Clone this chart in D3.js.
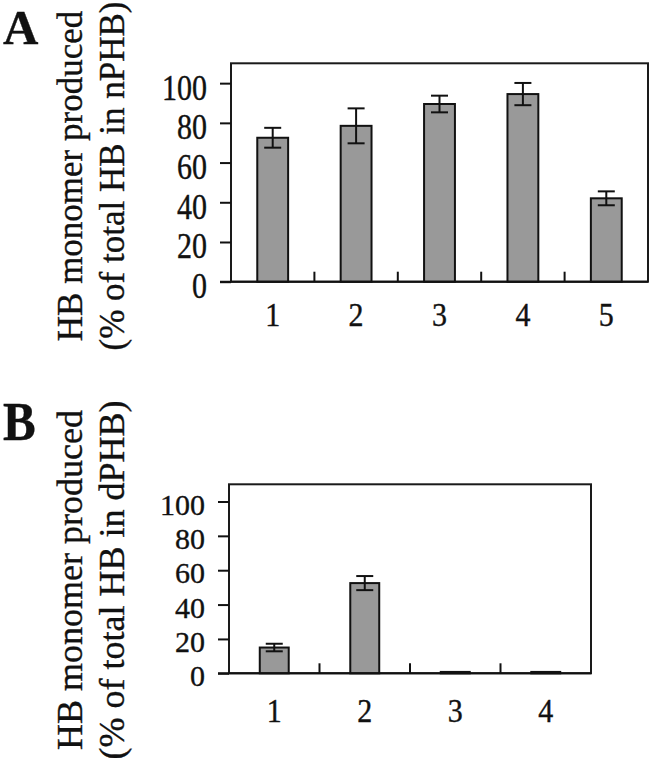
<!DOCTYPE html>
<html>
<head>
<meta charset="utf-8">
<script src="https://cdn.jsdelivr.net/npm/d3@7"></script>
<style>
  html, body { margin: 0; padding: 0; background: #fff; }
  svg { display: block; }
  text { font-family: "Liberation Serif", "Times New Roman", serif; fill: #111; stroke: #111; stroke-width: 0.35px; }
</style>
</head>
<body>
<svg id="chart" width="650" height="764"></svg>
<script>
// ---- Data ----
const categoriesA = ["1", "2", "3", "4", "5"];
const valuesA = [72.5, 78.5, 89.5, 94.5, 42];
const errorsA = [5.0, 8.8, 4.2, 5.6, 3.5];

const categoriesB = ["1", "2", "3", "4"];
const valuesB = [15.0, 52.5, 0.8, 0.8];
const errorsB = [2.2, 4.1, 0, 0];

const yTickValues = [0, 20, 40, 60, 80, 100];
const yLabelLine1 = "HB monomer produced";
const yLabelLineA2 = "(% of total HB in nPHB)";
const yLabelLineB2 = "(% of total HB in dPHB)";

const svg = d3.select("#chart");

function drawPanel(cfg) {
  const g = svg.append("g");
  const y = d3.scaleLinear().domain([0, 110]).range([cfg.bottom, cfg.top]);
  const x = d3.scaleBand().domain(cfg.categories).range([cfg.left, cfg.right]).padding(0);
  const bw = x.bandwidth() * cfg.barFrac;

  // box
  g.append("rect")
    .attr("x", cfg.left).attr("y", cfg.top)
    .attr("width", cfg.right - cfg.left).attr("height", cfg.bottom - cfg.top)
    .attr("fill", "none").attr("stroke", "#1a1a1a").attr("stroke-width", 2);

  // bars
  const data = cfg.categories.map((c, i) => ({ c, v: cfg.values[i], e: cfg.errors[i] }));
  g.selectAll("rect.bar").data(data).enter().append("rect")
    .attr("class", "bar")
    .attr("x", d => x(d.c) + x.bandwidth() / 2 - bw / 2)
    .attr("y", d => y(d.v))
    .attr("width", bw)
    .attr("height", d => y(0) - y(d.v))
    .attr("fill", "#999999").attr("stroke", "#111").attr("stroke-width", 2);

  // error bars
  const eb = g.selectAll("g.err").data(data.filter(d => d.e > 0)).enter().append("g").attr("class", "err");
  eb.append("line")
    .attr("x1", d => x(d.c) + x.bandwidth() / 2).attr("x2", d => x(d.c) + x.bandwidth() / 2)
    .attr("y1", d => y(d.v + d.e)).attr("y2", d => y(d.v - d.e))
    .attr("stroke", "#111").attr("stroke-width", 2);
  [1, -1].forEach(s => {
    eb.append("line")
      .attr("x1", d => x(d.c) + x.bandwidth() / 2 - 8.5).attr("x2", d => x(d.c) + x.bandwidth() / 2 + 8.5)
      .attr("y1", d => y(d.v + s * d.e)).attr("y2", d => y(d.v + s * d.e))
      .attr("stroke", "#111").attr("stroke-width", 2);
  });

  // y axis
  const yAxis = d3.axisLeft(y).tickValues(yTickValues).tickSize(11).tickSizeOuter(0).tickPadding(13);
  const ya = g.append("g").attr("transform", `translate(${cfg.left},0)`).call(yAxis);
  ya.select(".domain").remove();
  ya.selectAll(".tick line").attr("stroke", "#111").attr("stroke-width", 2);
  ya.selectAll(".tick text")
    .attr("font-size", 30)
    .attr("dy", cfg.tickDy + "em")
    .attr("transform", `scale(1,${cfg.yTextScale})`);

  // baseline
  g.append("line")
    .attr("x1", cfg.left - 11).attr("x2", cfg.right)
    .attr("y1", y(0)).attr("y2", y(0))
    .attr("stroke", "#111").attr("stroke-width", 2);

  // category separator ticks (upward)
  const xAxis = d3.axisTop(x).tickSize(10).tickSizeOuter(0).tickFormat("");
  const xa = g.append("g").attr("transform", `translate(${x.bandwidth() / 2},${y(0)})`).call(xAxis);
  xa.select(".domain").remove();
  xa.selectAll(".tick").filter((d, i) => i === cfg.categories.length - 1).remove();
  xa.selectAll(".tick line").attr("stroke", "#111").attr("stroke-width", 2);

  // x labels
  g.selectAll("text.xl").data(cfg.categories).enter().append("text")
    .attr("class", "xl")
    .attr("text-anchor", "middle")
    .attr("font-size", 30)
    .attr("transform", d => `translate(${x(d) + x.bandwidth() / 2},${y(0) + cfg.xLabelOffset}) scale(1,${cfg.xTextScale})`)
    .text(d => d);

  // rotated y label
  const cy = cfg.labelCy;
  g.append("text")
    .attr("text-anchor", "middle").attr("font-size", cfg.labelSize)
    .attr("transform", `translate(82,${cy}) rotate(-90)`)
    .text(yLabelLine1);
  g.append("text")
    .attr("text-anchor", "middle").attr("font-size", cfg.labelSize)
    .attr("transform", `translate(124,${cy}) rotate(-90)`)
    .text(cfg.label2);

  // panel letter
  g.append("text")
    .attr("font-size", 49).attr("font-weight", "bold")
    .attr("transform", `translate(3,${cfg.letterY}) scale(1,${cfg.letterScale})`)
    .text(cfg.letter);
}

drawPanel({
  categories: categoriesA, values: valuesA, errors: errorsA,
  left: 231, right: 648, top: 63.3, bottom: 281.7, barFrac: 0.37,
  yTextScale: 1.17, xTextScale: 1.14, tickDy: 0.456, xLabelOffset: 44,
  label2: yLabelLineA2, labelCy: 176, labelSize: 35,
  letter: "A", letterY: 44, letterScale: 1.0
});

drawPanel({
  categories: categoriesB, values: valuesB, errors: errorsB,
  left: 229, right: 591, top: 484.3, bottom: 673.3, barFrac: 0.32,
  yTextScale: 1.0, xTextScale: 1.13, tickDy: 0.42, xLabelOffset: 48.5,
  label2: yLabelLineB2, labelCy: 580, labelSize: 36,
  letter: "B", letterY: 440, letterScale: 1.1
});
</script>
</body>
</html>
